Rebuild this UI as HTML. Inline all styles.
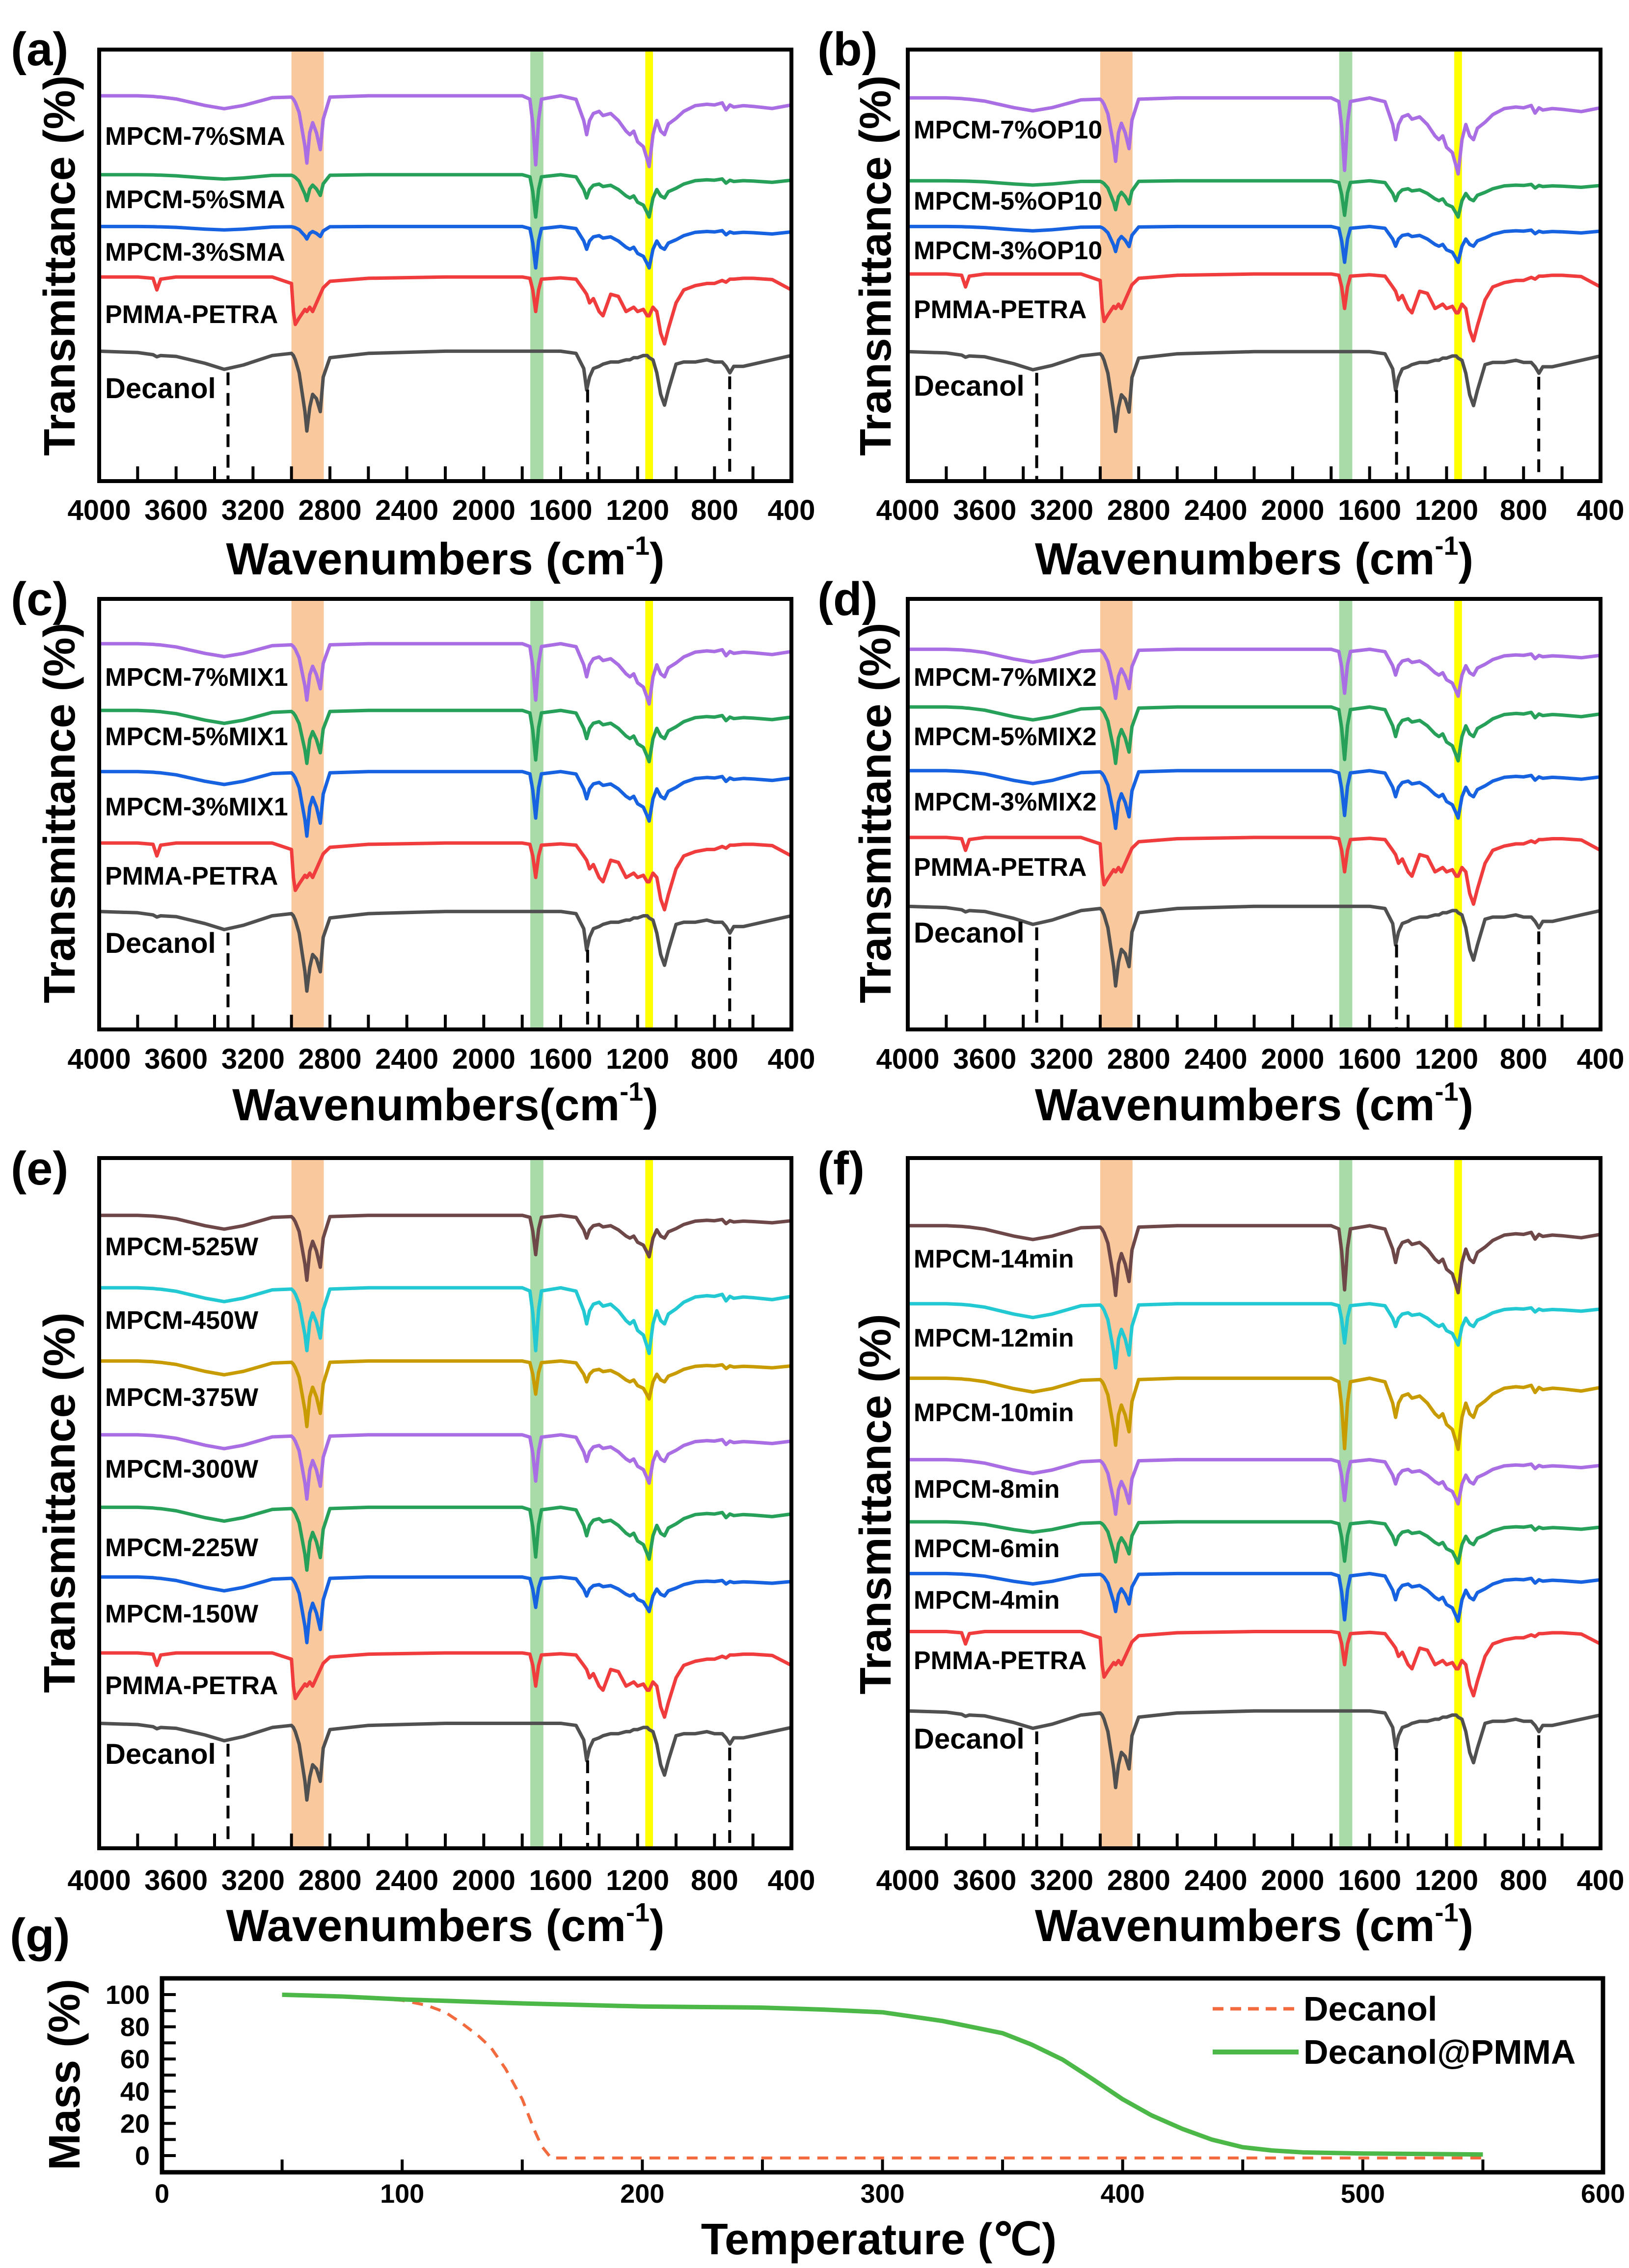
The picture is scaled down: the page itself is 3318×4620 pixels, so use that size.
<!DOCTYPE html>
<html><head><meta charset="utf-8"><style>
html,body{margin:0;padding:0;background:#fff}
svg{display:block}
text{font-family:"Liberation Sans",sans-serif;font-weight:bold;fill:#000}
</style></head><body>
<svg id="fig" xmlns="http://www.w3.org/2000/svg" width="3318" height="4620" viewBox="0 0 3318 4620"></svg>
<script>
// ---- FTIR shared wavenumber grid and band shapes ----
const wn = [4000,3800,3720,3700,3680,3600,3450,3350,3250,3100,3000,2990,2980,2960,2930,2920,2905,2890,2870,2850,2835,2800,2600,2200,1800,1760,1745,1730,1715,1700,1600,1520,1480,1465,1450,1430,1400,1380,1340,1300,1260,1240,1220,1200,1170,1150,1140,1120,1100,1080,1060,1040,1000,960,900,840,800,760,740,720,700,650,600,500,400];
const shapeOH = [0,0,0.05,0.08,0.1,0.25,0.75,1,0.75,0.15,0,0,0,0,0,0,0,0,0,0,0,0,0,0,0,0,0,0,0,0,0,0,0,0,0,0,0,0,0,0,0,0,0,0,0,0,0,0,0,0,0,0,0,0,0,0,0,0,0,0,0,0,0,0,0];
const shapeCH = [0,0,0,0,0,0,0,0,0,0,0.02,0.05,0.1,0.25,0.75,1,0.55,0.4,0.55,0.8,0.35,0.02,0,0,0,0,0,0,0,0,0,0,0,0,0,0,0,0,0,0,0,0,0,0,0,0,0,0,0,0,0,0,0,0,0,0,0,0,0,0,0,0,0,0,0];
const shapeCO = [0,0,0,0,0,0,0,0,0,0,0,0,0,0,0,0,0,0,0,0,0,0,0,0,0,0.05,0.4,1,0.35,0.05,0,0,0,0,0,0,0,0,0,0,0,0,0,0,0,0,0,0,0,0,0,0,0,0,0,0,0,0,0,0,0,0,0,0,0];
const shapeFP = [0,0,0,0,0,0,0,0,0,0,0,0,0,0,0,0,0,0,0,0,0,0,0,0,0,0,0,0,0,0,0,0.05,0.35,0.55,0.35,0.25,0.22,0.28,0.25,0.35,0.5,0.55,0.5,0.65,0.72,0.9,1.0,0.55,0.35,0.5,0.55,0.4,0.32,0.22,0.14,0.12,0.13,0.1,0.2,0.13,0.16,0.14,0.15,0.18,0.13];
const shapePETRA = [0,0,0.3,3,0.5,0,0,0,0,0,1.5,8,11,9.5,7.5,8,7,8,6,4,2.5,1,0.3,0,0,0.3,3,8,3,0.5,0.2,0.5,3,4,6,5,8,9,4,4.5,8,7.5,7,8,7.5,9,9,7,8,13,15.5,12,6,3,2,1.5,1.5,0.8,1.2,0.5,0.5,0.3,0.3,0.6,3];
const shapeDEC = [0,0.3,0.8,1.3,1,1.2,2.8,4.2,3.2,1,0.5,1,2,5,14,18.5,13,10,11,14,6,1.5,0.5,0,0,0,0,0,0,0,0,0.5,4,9,6,4,3.5,3,2.5,2.5,2,2,1.5,1.5,1,1,1.5,2,5,10,12.5,9,3,2.5,2.5,2,2.5,2.5,3.5,5,3.5,3.5,3,2,1];
const xTicks = [4000,3600,3200,2800,2400,2000,1600,1200,800,400];
const decMarks = [3330,1460,721];

// ---- per-panel MPCM curves (top to bottom) ----
const aLabels=["MPCM-7%SMA","MPCM-5%SMA","MPCM-3%SMA"], aBase=[89.3,71,59], aOH=[3,1,0.8], aCH=[15.6,6,2.9], aCO=[16,9.8,9.6], aFP=[16.4,9.8,9.6];
const bLabels=["MPCM-7%OP10","MPCM-5%OP10","MPCM-3%OP10"], bBase=[88.8,69.6,59], bOH=[3,1,1], bCH=[14.7,6.7,5.8], bCO=[16.8,8,8.3], bFP=[17.6,8.4,8.3];
const cLabels=["MPCM-7%MIX1","MPCM-5%MIX1","MPCM-3%MIX1"], cBase=[89.6,74.1,59.9], cOH=[3,3,3], cCH=[13.1,12.3,15], cCO=[13.1,11.5,10.8], cFP=[14,11.9,11.5];
const dLabels=["MPCM-7%MIX2","MPCM-5%MIX2","MPCM-3%MIX2"], dBase=[88.3,74.9,60.1], dOH=[3,3,3], dCH=[11.4,13.1,13.4], dCO=[10.2,12.2,10.4], dFP=[10.9,12.5,11];
const eLabels=["MPCM-525W","MPCM-450W","MPCM-375W","MPCM-300W","MPCM-225W","MPCM-150W"], eBase=[91.7,81.2,70.6,59.9,49.4,39.3], eOH=[2,2,2,2,2,2], eCH=[9.4,9.1,9.5,9.3,9.1,9.5], eCO=[5.7,9.1,4.8,6.7,7.2,4.4], eFP=[6,9.5,5.5,7,7.5,5];
const fLabels=["MPCM-14min","MPCM-12min","MPCM-10min","MPCM-8min","MPCM-6min","MPCM-4min"], fBase=[90.2,78.9,68.1,56.3,47.3,39.8], fOH=[2,2,2,2,1.5,1.5], fCH=[10.1,9.3,9.7,7.9,5.8,5.5], fCO=[9.3,5.7,10.2,5.9,5.7,6.7], fFP=[9.7,6,10.3,6.4,6,6.9];
// reference curves per panel a..f
const petraBase=[47.3,48,43.3,44.6,28.3,31.4];
const decBase=[30.1,30,27.4,28.6,18.1,19.9];
const refScale=[1,1,1,1,0.6,0.6];

// ---- TGA data ----
const tgaXTicks=[0,100,200,300,400,500,600];
const tgaYTicks=[0,20,40,60,80,100];
const decT=[50,80,100,110,118,125,132,137,143,150,155,158,162,170,200,300,400,500,550];
const decM=[100,98.5,96.4,93.4,89,82,74,67,54,35,16,6,-1.5,-1.5,-1.5,-1.5,-1.5,-1.5,-1.5];
const pmT=[50,75,100,150,200,250,275,300,325,350,362,375,387,400,412,425,437,450,462,475,500,550];
const pmM=[99.9,98.8,97,94.5,92.6,91.9,90.7,89,83.6,76,69,59.6,48,35,25,16.5,10,5.2,3.2,2,1.3,0.7];

const NS="http://www.w3.org/2000/svg";
const svg=document.getElementById('fig');
function mk(tag,attrs,parent){const e=document.createElementNS(NS,tag);for(const k in attrs)e.setAttribute(k,attrs[k]);(parent||svg).appendChild(e);return e;}

const layout=[
 {id:'a',x0:202,x1:1612,y0:101,y1:980,tick:1059,title:1170,tl:{x:22,y:133},yt:{x:152,y:541},lab:[295,424,531,658,811],t:"Wavenumbers (cm",L:aLabels,B:aBase,OH:aOH,CH:aCH,CO:aCO,FP:aFP},
 {id:'b',x0:1849,x1:3260,y0:101,y1:980,tick:1059,title:1170,tl:{x:1665,y:133},yt:{x:1814,y:541},lab:[282,427,528,648,806],t:"Wavenumbers (cm",L:bLabels,B:bBase,OH:bOH,CH:bCH,CO:bCO,FP:bFP},
 {id:'c',x0:202,x1:1612,y0:1220,y1:2097,tick:2177,title:2282,tl:{x:22,y:1253},yt:{x:152,y:1656},lab:[1397,1518,1661,1802,1941],t:"Wavenumbers(cm",L:cLabels,B:cBase,OH:cOH,CH:cCH,CO:cCO,FP:cFP},
 {id:'d',x0:1849,x1:3260,y0:1220,y1:2097,tick:2177,title:2282,tl:{x:1665,y:1253},yt:{x:1814,y:1656},lab:[1397,1518,1651,1784,1920],t:"Wavenumbers (cm",L:dLabels,B:dBase,OH:dOH,CH:dCH,CO:dCO,FP:dFP},
 {id:'e',x0:202,x1:1612,y0:2359,y1:3765,tick:3850,title:3954,tl:{x:22,y:2413},yt:{x:152,y:3061},lab:[2557,2707,2864,3010,3170,3305,3451,3593],t:"Wavenumbers (cm",L:eLabels,B:eBase,OH:eOH,CH:eCH,CO:eCO,FP:eFP},
 {id:'f',x0:1849,x1:3260,y0:2359,y1:3765,tick:3850,title:3954,tl:{x:1665,y:2413},yt:{x:1814,y:3064},lab:[2582,2743,2895,3051,3172,3277,3400,3562],t:"Wavenumbers (cm",L:fLabels,B:fBase,OH:fOH,CH:fCH,CO:fCO,FP:fFP}
];
const colors6=['#6e4848','#22c8d2','#c89c00','#aa6ee4','#27a05a','#1762e0'];
const colors3=['#aa6ee4','#27a05a','#1762e0'];

function interp(xs,ys,x){for(let i=0;i<xs.length-1;i++){if((x<=xs[i]&&x>=xs[i+1])){const t=(x-xs[i])/(xs[i+1]-xs[i]);return ys[i]+t*(ys[i+1]-ys[i]);}}return ys[ys.length-1];}

layout.forEach((P,pi)=>{
  const g=mk('g',{});
  
  
  const X=w=>P.x0+(4000-w)/3600*(P.x1-P.x0);
  const Y=v=>P.y1-v/100*(P.y1-P.y0);
  const bands=[[3000,2832,'#f9c89c'],[1758,1690,'#a9dba9'],[1160,1120,'#ffff00']];
  bands.forEach((b,i)=>{const r=mk('rect',{x:X(b[0]),y:P.y0,width:X(b[1])-X(b[0]),height:P.y1-P.y0,fill:b[2]},g);
    
    });
  function curve(vals,color,name){
    const pts=wn.map((w,i)=>X(w).toFixed(1)+','+Y(vals[i]).toFixed(1)).join(' ');
    const pl=mk('polyline',{points:pts,fill:'none',stroke:color,'stroke-width':7,'stroke-linejoin':'round'},g);
    
    
  }
  const n=P.L.length;
  const cols=n===6?colors6:colors3;
  for(let k=0;k<n;k++){
    const vals=wn.map((w,i)=>P.B[k]-(P.OH[k]*shapeOH[i]+P.CH[k]*shapeCH[i]+P.CO[k]*shapeCO[i]+P.FP[k]*shapeFP[i]));
    curve(vals,cols[k],'curve-'+P.L[k].toLowerCase().replace('%',''));
  }
  const s=refScale[pi];
  const pv=wn.map((w,i)=>petraBase[pi]-s*shapePETRA[i]);
  curve(pv,'#f03c3c','curve-pmma-petra');
  const dv=wn.map((w,i)=>decBase[pi]-s*shapeDEC[i]);
  curve(dv,'#505050','curve-decanol');
  decMarks.forEach(m=>{const v=interp(wn,dv,m);
    const l=mk('line',{x1:X(m),x2:X(m),y1:Y(v)+8,y2:P.y1,stroke:'#000','stroke-width':6,'stroke-dasharray':'26,16'},g);
    
    });
  const labs=P.L.concat(['PMMA-PETRA','Decanol']);
  labs.forEach((t,i)=>{const tx=mk('text',{x:P.x0+12,y:P.lab[i],'font-size':t==='Decanol'?58:52},g);tx.textContent=t;
    
    });
  for(let w=4000;w>=400;w-=200){const l=mk('line',{x1:X(w),x2:X(w),y1:P.y1,y2:P.y1-30,stroke:'#000','stroke-width':6},g);
    
    }
  xTicks.forEach(w=>{const t=mk('text',{x:X(w),y:P.tick,'font-size':58,'text-anchor':'middle'},g);t.textContent=w;
    
    });
  const box=mk('rect',{x:P.x0,y:P.y0,width:P.x1-P.x0,height:P.y1-P.y0,fill:'none',stroke:'#000','stroke-width':8},g);
  
  
  const tt=mk('text',{x:(P.x0+P.x1)/2,y:P.title,'font-size':92,'text-anchor':'middle'},g);
  
  
  tt.appendChild(document.createTextNode(P.t));
  const sup=mk('tspan',{'font-size':54,dy:-40},tt);sup.textContent='-1';
  const cl=mk('tspan',{dy:40},tt);cl.textContent=')';
  const yt=mk('text',{x:P.yt.x,y:P.yt.y,'font-size':90,'text-anchor':'middle',transform:`rotate(-90 ${P.yt.x} ${P.yt.y})`},g);
  yt.textContent='Transmittance (%)';
  
  
  const pl=mk('text',{x:P.tl.x,y:P.tl.y,'font-size':96},g);pl.textContent='('+P.id+')';
  
  
});

// ---- panel g: TGA ----
(function(){
  const G={x0:330,x1:3265,y0:4030,y1:4425};
  const g=mk('g',{});
  
  
  const X=t=>G.x0+t/600*(G.x1-G.x0);
  const Y=m=>4391-m*3.28;
  for(let t=0;t<=600;t+=50){const l=mk('line',{x1:X(t),x2:X(t),y1:G.y1,y2:G.y1-26,stroke:'#000','stroke-width':6},g);
    
    }
  for(let m=0;m<=100;m+=10){const l=mk('line',{x1:G.x0,x2:G.x0+28,y1:Y(m),y2:Y(m),stroke:'#000','stroke-width':6},g);
    
    }
  const dl=mk('polyline',{points:decT.map((t,i)=>X(t)+','+Y(decM[i])).join(' '),fill:'none',stroke:'#f26a3e','stroke-width':6,'stroke-dasharray':'22,16'},g);
  
  
  const pm=mk('polyline',{points:pmT.map((t,i)=>X(t)+','+Y(pmM[i])).join(' '),fill:'none',stroke:'#4cb848','stroke-width':9,'stroke-linejoin':'round'},g);
  
  
  const box=mk('rect',{x:G.x0,y:G.y0,width:G.x1-G.x0,height:G.y1-G.y0,fill:'none',stroke:'#000','stroke-width':9},g);
  
  
  tgaXTicks.forEach(t=>{const e=mk('text',{x:X(t),y:4487,'font-size':54,'text-anchor':'middle'},g);e.textContent=t;
    
    });
  tgaYTicks.forEach(m=>{const e=mk('text',{x:305,y:Y(m)+19,'font-size':54,'text-anchor':'end'},g);e.textContent=m;
    
    });
  const tt=mk('text',{x:1790,y:4592,'font-size':90,'text-anchor':'middle'},g);tt.textContent='Temperature (℃)';
  
  
  const yt=mk('text',{x:162,y:4226,'font-size':90,'text-anchor':'middle',transform:'rotate(-90 162 4226)'},g);yt.textContent='Mass (%)';
  
  
  const pl=mk('text',{x:20,y:3975,'font-size':96},g);pl.textContent='(g)';
  
  
  const l1=mk('line',{x1:2470,x2:2645,y1:4092,y2:4092,stroke:'#f26a3e','stroke-width':7,'stroke-dasharray':'22,14'},g);
  
  
  const t1=mk('text',{x:2655,y:4116,'font-size':70},g);t1.textContent='Decanol';
  
  
  const l2=mk('line',{x1:2470,x2:2645,y1:4180,y2:4180,stroke:'#4cb848','stroke-width':10},g);
  
  
  const t2=mk('text',{x:2655,y:4204,'font-size':70},g);t2.textContent='Decanol@PMMA';
  
  
})();
</script>
</body></html>
